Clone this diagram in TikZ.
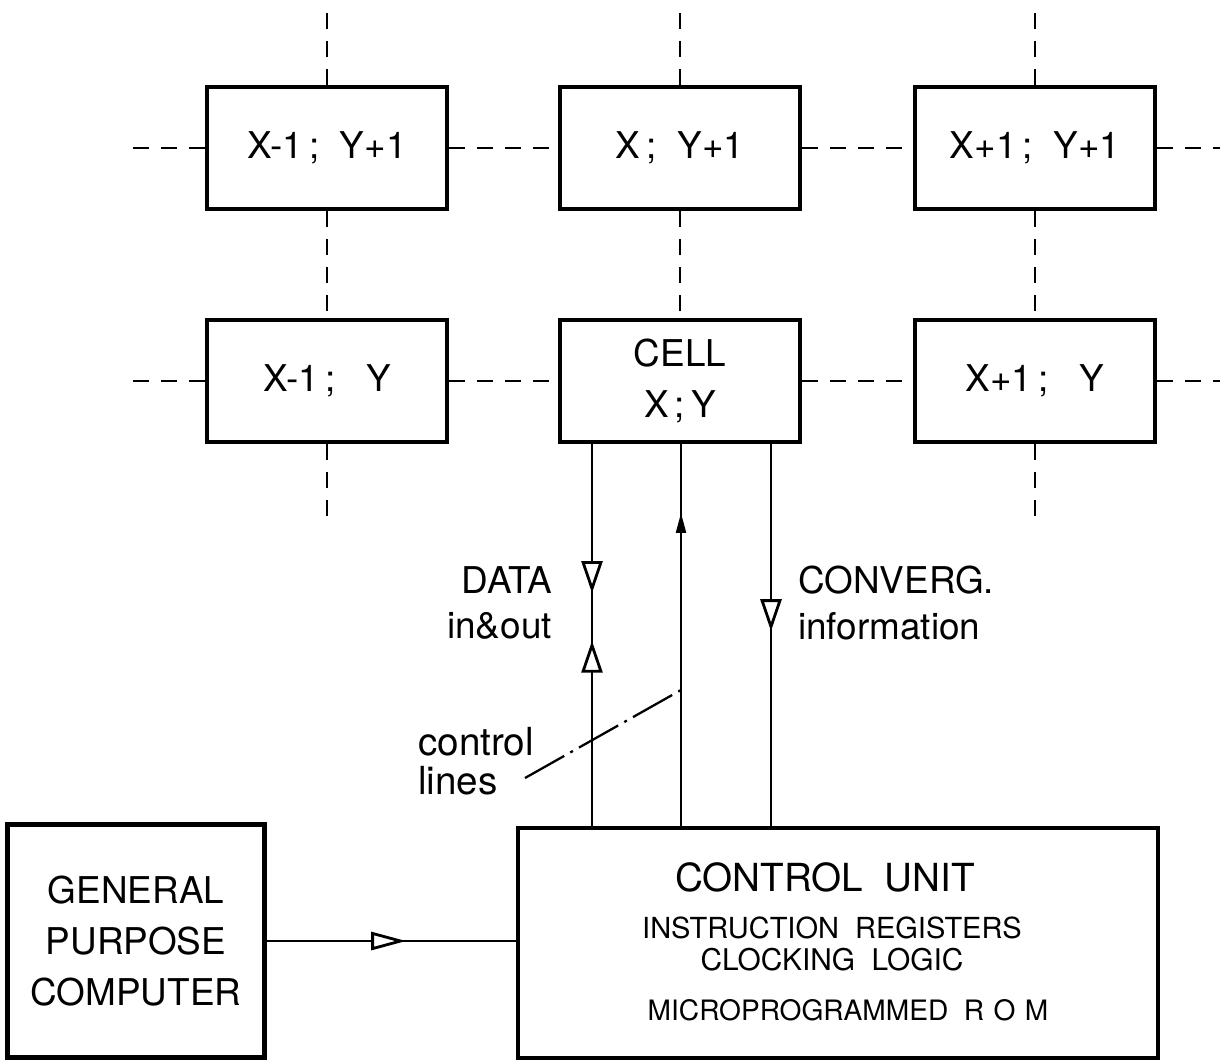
\documentclass[tikz,border=0pt]{standalone}
\usepackage{fontspec}
\setmainfont{TeX Gyre Heros}
\usetikzlibrary{arrows.meta,decorations.markings}
\tikzset{
  cellbox/.style={draw,line width=2.6pt,minimum width=4.8cm,minimum height=2.44cm,align=center,font=\fontsize{21}{25}\selectfont},
  unitbox/.style={draw,line width=2.6pt},
  gridline/.style={line width=1.3pt,dash pattern=on 0.32cm off 0.24cm},
  busline/.style={line width=1.2pt},
  ctrlline/.style={line width=1.3pt,dash pattern=on 0.9cm off 0.14cm on 0.06cm off 0.14cm},
  bigtip/.tip={Triangle[length=0.64cm,width=0.42cm,fill=white,line width=1.6pt]},
  smalltip/.tip={Triangle[length=0.4cm,width=0.2cm]},
  sidetip/.tip={Triangle[length=0.7cm,width=0.36cm,fill=white,line width=1.6pt]},
  lbl/.style={font=\fontsize{21}{26}\selectfont}
}
\begin{document}
\begin{tikzpicture}[x=0.02cm,y=-0.02cm]
\useasboundingbox (0,0) rectangle (1220,1063);
\node[cellbox] (upleft) at (327,148) {X-1\,;\ \ Y+1};
\node[cellbox] (up) at (680,148) {X\,;\ \ Y+1};
\node[cellbox] (upright) at (1035,148) {X+1\,;\ \ Y+1};
\node[cellbox] (left) at (327,381) {X-1\,;\ \ \ Y};
\node[cellbox,font=\fontsize{21}{29}\selectfont] (cell) at (680,381) {CELL\\X\,;\,Y};
\node[cellbox] (right) at (1035,381) {X+1\,;\ \ \ Y};
\node[unitbox,minimum width=12.8cm,minimum height=4.6cm] (cu) at (838,943) {};
\node[unitbox,minimum width=5.14cm,minimum height=4.66cm,align=center,font=\fontsize{21}{29}\selectfont] (gpc) at (136,941) {GENERAL\\PURPOSE\\COMPUTER};
\node[font=\fontsize{22}{26}\selectfont] (cutitle) at (825,877) {CONTROL\ \ UNIT};
\node[font=\fontsize{16.5}{19}\selectfont] (cureg) at (832,928) {INSTRUCTION\ \ REGISTERS};
\node[font=\fontsize{17}{19}\selectfont] (culogic) at (832,960) {CLOCKING\ \ LOGIC};
\node[font=\fontsize{16}{19}\selectfont] (curom) at (848,1010) {MICROPROGRAMMED\ \ R\,\,O\,\,M};
\node[lbl,anchor=east,align=right] (datalbl) at (558,603) {DATA\\in\&out};
\node[lbl,anchor=west,align=left] (convlbl) at (792,603) {CONVERG.\\information};
\node[lbl,anchor=west,align=left,font=\fontsize{22}{22}\selectfont] (ctrllbl) at (412,761) {control\\lines};
\draw[gridline] (upleft.north) -- ++(0,-82);
\draw[gridline] (up.north) -- ++(0,-82);
\draw[gridline] (upright.north) -- ++(0,-82);
\draw[gridline] (upleft.south) -- (left.north);
\draw[gridline] (up.south) -- (cell.north);
\draw[gridline] (upright.south) -- (right.north);
\draw[gridline] (left.south) -- ++(0,72);
\draw[gridline] (right.south) -- ++(0,72);
\draw[gridline] (upleft.west) -- ++(-80,0);
\draw[gridline] (upleft.east) -- (up.west);
\draw[gridline] (up.east) -- (upright.west);
\draw[gridline] (upright.east) -- ++(66,0);
\draw[gridline] (left.west) -- ++(-80,0);
\draw[gridline] (left.east) -- (cell.west);
\draw[gridline] (cell.east) -- (right.west);
\draw[gridline] (right.east) -- ++(66,0);
\coordinate (bus1) at (592,0);
\coordinate (bus2) at (681,0);
\coordinate (bus3) at (771,0);
\draw[busline,postaction={decorate},decoration={markings,
  mark=at position 0.39 with {\arrow{bigtip}},
  mark=at position 0.515 with {\arrowreversed{bigtip}}}]
  (cell.south -| bus1) -- (cu.north -| bus1);
\draw[busline,postaction={decorate},decoration={markings,
  mark=at position 0.18 with {\arrowreversed{smalltip}}}]
  (cell.south -| bus2) -- (cu.north -| bus2);
\draw[busline,postaction={decorate},decoration={markings,
  mark=at position 0.49 with {\arrow{bigtip}}}]
  (cell.south -| bus3) -- (cu.north -| bus3);
\draw[busline,postaction={decorate},decoration={markings,
  mark=at position 0.56 with {\arrow{sidetip}}}]
  (gpc.east) -- (gpc.east -| cu.west);
\coordinate (ctrlend) at (525,778);
\coordinate (ctrltop) at (681,690);
\draw[ctrlline] (ctrlend) -- (ctrltop);
\end{tikzpicture}
\end{document}
